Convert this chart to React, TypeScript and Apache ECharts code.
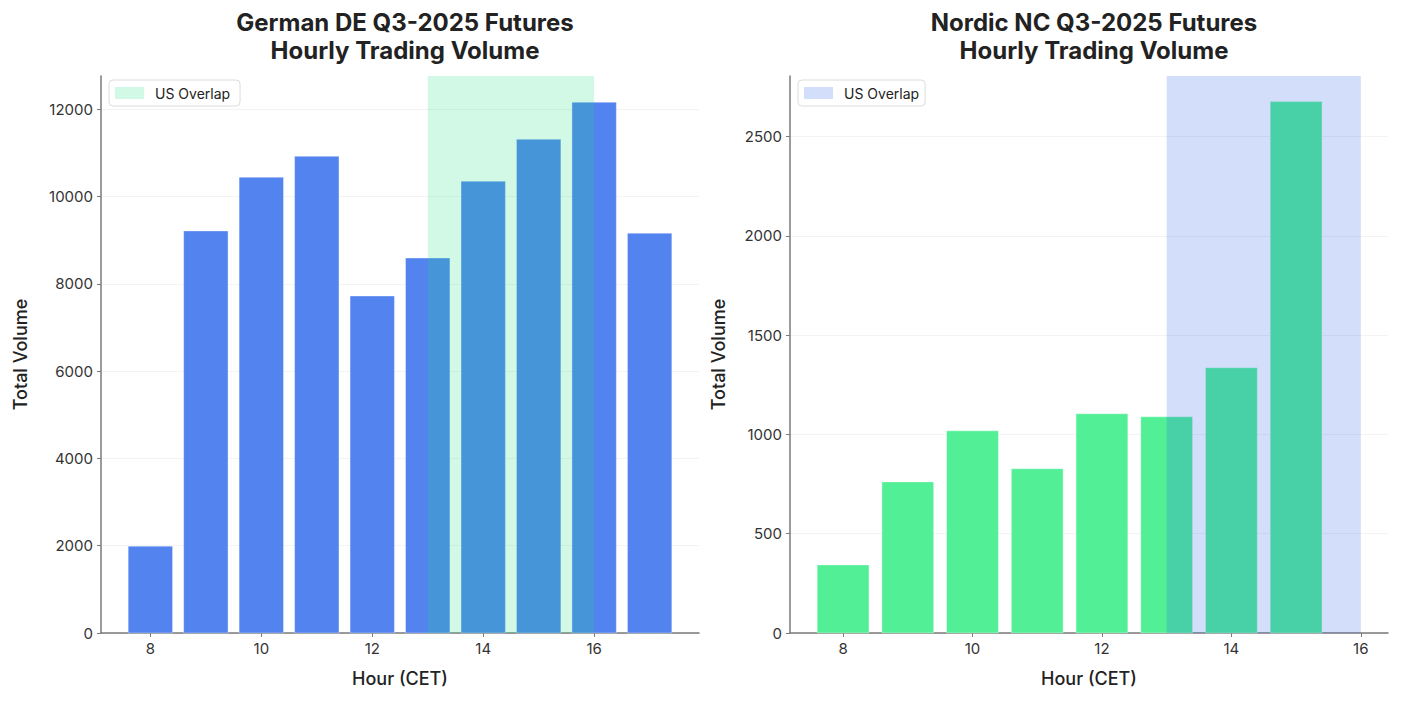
import React, { useEffect, useRef } from "react";
import * as echarts from "echarts";

const deHours = [8, 9, 10, 11, 12, 13, 14, 15, 16, 17];
const deVolume = [1990, 9210, 10440, 10920, 7720, 8590, 10350, 11310, 12160, 9160];
const ncHours = [8, 9, 10, 11, 12, 13, 14, 15];
const ncVolume = [343, 761, 1018, 827, 1104, 1089, 1336, 2676];
const overlapSpan = [13, 16];
const deYTicks = [0, 2000, 4000, 6000, 8000, 10000, 12000];
const ncYTicks = [0, 500, 1000, 1500, 2000, 2500];
const deXTicks = [8, 10, 12, 14, 16];
const ncXTicks = [8, 10, 12, 14, 16];

const FONT = "Inter, 'Noto Sans', sans-serif";

export default function App() {
  const ref = useRef<HTMLDivElement>(null);
  useEffect(() => {
    if (!ref.current) return;
    const chart = echarts.init(ref.current, undefined, { renderer: "svg" });

    const barRender = (color: string) => (params: any, api: any) => {
      const x = api.value(0);
      const y = api.value(1);
      const p1 = api.coord([x - 0.4, y]);
      const p2 = api.coord([x + 0.4, 0]);
      return {
        type: "rect",
        shape: { x: p1[0], y: p1[1], width: p2[0] - p1[0], height: p2[1] - p1[1] },
        style: { fill: color, stroke: "rgba(255,255,255,0.35)", lineWidth: 1 },
      };
    };
    const spanRender = (color: string) => (params: any, api: any) => {
      const cs = params.coordSys;
      const a = api.coord([api.value(0), 0]);
      const b = api.coord([api.value(1), 0]);
      return {
        type: "rect",
        shape: { x: a[0], y: cs.y, width: b[0] - a[0], height: cs.height },
        style: { fill: color },
      };
    };

    const xAxisBase = (gridIndex: number, min: number, max: number, ticks: number[]) => ({
      type: "value",
      gridIndex,
      min,
      max,
      name: "Hour (CET)",
      nameLocation: "middle",
      nameGap: 36,
      nameTextStyle: { fontFamily: FONT, fontSize: 18, color: "#222", fontWeight: 500 },
      axisLine: { show: true, lineStyle: { color: "#7a7a7a", width: 1.5 } },
      axisTick: { show: true, length: 4, customValues: ticks, lineStyle: { color: "#7a7a7a" } },
      axisLabel: {
        customValues: ticks,
        formatter: (v: number) => String(v),
        fontFamily: FONT,
        fontSize: 15,
        color: "#333",
        margin: 8,
      },
      splitLine: { show: false },
    });
    const yAxisBase = (gridIndex: number, max: number, ticks: number[], gap: number) => ({
      type: "value",
      gridIndex,
      min: 0,
      max,
      name: "Total Volume",
      nameLocation: "middle",
      nameGap: gap,
      nameRotate: 90,
      nameTextStyle: { fontFamily: FONT, fontSize: 18, color: "#222", fontWeight: 500 },
      axisLine: { show: true, lineStyle: { color: "#7a7a7a", width: 1.5 } },
      axisTick: { show: true, length: 4, customValues: ticks, lineStyle: { color: "#7a7a7a" } },
      axisLabel: {
        customValues: ticks,
        formatter: (v: number) => String(v),
        fontFamily: FONT,
        fontSize: 15,
        color: "#333",
        margin: 8,
      },
      splitLine: { show: true, lineStyle: { color: "#f3f3f3", width: 1 } },
    });

    const legendBase = (left: number, name: string) => ({
      left,
      top: 80,
      orient: "vertical",
      data: [{ name, icon: "rect" }],
      itemWidth: 29,
      itemHeight: 12,
      padding: [6, 6, 6, 6],
      borderColor: "#dcdcdc",
      borderWidth: 1,
      borderRadius: 4,
      backgroundColor: "#fff",
      textStyle: { fontFamily: FONT, fontSize: 14, color: "#222", padding: [0, 0, 0, 6] },
      selectedMode: false,
    });

    chart.setOption({
      animation: false,
      backgroundColor: "#fff",
      title: [
        {
          text: "German DE Q3-2025 Futures\nHourly Trading Volume",
          left: 400,
          top: 3,
          textAlign: "center",
          textStyle: { fontFamily: FONT, fontSize: 24, fontWeight: "bold", color: "#222", lineHeight: 28 },
        },
        {
          text: "Nordic NC Q3-2025 Futures\nHourly Trading Volume",
          left: 1089,
          top: 3,
          textAlign: "center",
          textStyle: { fontFamily: FONT, fontSize: 24, fontWeight: "bold", color: "#222", lineHeight: 28 },
        },
      ],
      legend: [
        { ...legendBase(109, "US Overlap "), itemStyle: { color: "rgb(210,249,230)" } },
        { ...legendBase(798, "US Overlap"), itemStyle: { color: "rgb(211,222,250)" } },
      ],
      grid: [
        { left: 101, width: 598, top: 76, height: 557 },
        { left: 790, width: 598, top: 76, height: 557 },
      ],
      xAxis: [xAxisBase(0, 7.11, 17.89, deXTicks), xAxisBase(1, 7.18, 16.42, ncXTicks)],
      yAxis: [yAxisBase(0, 12760, deYTicks, 72), yAxisBase(1, 2805, ncYTicks, 63)],
      series: [
        {
          type: "custom",
          name: "DE",
          xAxisIndex: 0,
          yAxisIndex: 0,
          renderItem: barRender("rgb(83,131,239)"),
          data: deHours.map((h, i) => [h, deVolume[i]]),
          z: 2,
        },
        {
          type: "custom",
          name: "US Overlap ",
          xAxisIndex: 0,
          yAxisIndex: 0,
          renderItem: spanRender("rgba(25,225,130,0.2)"),
          itemStyle: { color: "rgb(210,249,230)" },
          data: [overlapSpan],
          z: 3,
        },
        {
          type: "custom",
          name: "NC",
          xAxisIndex: 1,
          yAxisIndex: 1,
          renderItem: barRender("rgb(82,239,150)"),
          data: ncHours.map((h, i) => [h, ncVolume[i]]),
          z: 2,
        },
        {
          type: "custom",
          name: "US Overlap",
          xAxisIndex: 1,
          yAxisIndex: 1,
          renderItem: spanRender("rgba(35,90,230,0.2)"),
          itemStyle: { color: "rgb(211,222,250)" },
          data: [overlapSpan],
          z: 3,
        },
      ],
    });
    return () => chart.dispose();
  }, []);
  return <div ref={ref} style={{ width: 1401, height: 701, margin: -8 }} />;
}
